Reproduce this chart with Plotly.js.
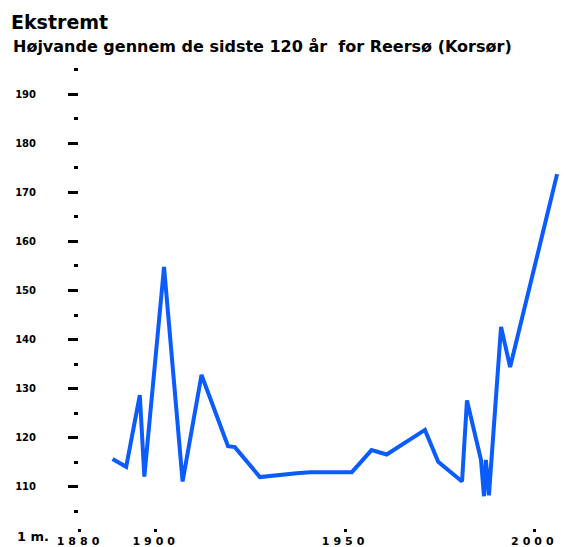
<!DOCTYPE html>
<html>
<head>
<meta charset="utf-8">
<script src="https://cdn.plot.ly/plotly-3.0.1.min.js"></script>
<style>
html,body{margin:0;padding:0;background:#fff;}
#chart{width:566px;height:547px;}
.xtick text{letter-spacing:4px;}
</style>
</head>
<body>
<div id="chart"></div>
<script>
// Data
var years = [1888.6, 1892.2, 1895.8, 1897.0, 1902.2, 1907.1, 1912.1, 1919.1, 1920.9, 1927.5,
             1937.2, 1940.8, 1951.8, 1957.0, 1961.0, 1971.1, 1974.6, 1980.9, 1982.2, 1985.9,
             1986.7, 1987.2, 1988.0, 1991.2, 1993.6, 2006.0];
var levels = [115.7, 114.1, 128.7, 112.1, 154.8, 111.1, 132.8, 118.3, 118.1, 112.0,
              112.8, 113.0, 113.0, 117.5, 116.6, 121.6, 115.1, 111.1, 127.6, 115.5,
              108.1, 115.5, 108.3, 142.6, 134.4, 173.7];
var xTickVals = [1880, 1900, 1950, 2000];
var xTickText = ["1880", "1900", "1950", "2000"];
var yTickVals = [110, 120, 130, 140, 150, 160, 170, 180, 190];
var yTickText = ["110", "120", "130", "140", "150", "160", "170", "180", "190"];
var titleText = "Ekstremt";
var subtitleText = "Højvande gennem de sidste 120 år  for Reersø (Korsør)";
var baseLabel = "1 m.";

var trace = {
  x: years,
  y: levels,
  type: "scatter",
  mode: "lines",
  line: {color: "#0a5cff", width: 4},
  hoverinfo: "x+y"
};

var plotTop = 69, plotBottom = 528, plotH = plotBottom - plotTop;

var layout = {
  width: 566,
  height: 547,
  paper_bgcolor: "#ffffff",
  plot_bgcolor: "#ffffff",
  margin: {l: 79, r: 4, t: plotTop, b: 547 - plotBottom, pad: 0},
  showlegend: false,
  font: {family: "DejaVu Sans", color: "#000"},
  title: {
    text: titleText,
    font: {family: "DejaVu Sans", size: 19, weight: "bold", color: "#000"},
    xref: "container", yref: "container",
    x: 11 / 566, xanchor: "left",
    y: 1 - 22 / 547, yanchor: "middle"
  },
  xaxis: {
    range: [1879.74, 2007.3],
    showgrid: false, zeroline: false, showline: false,
    tickmode: "array", tickvals: xTickVals, ticktext: xTickText,
    ticks: "outside", ticklen: 3, tickwidth: 3, tickcolor: "#000",
    tickfont: {family: "DejaVu Sans", size: 11, weight: "bold", color: "#000"}
  },
  yaxis: {
    range: [101.63, 195.11],
    showgrid: false, zeroline: false, showline: false,
    tickmode: "array", tickvals: yTickVals, ticktext: yTickText,
    ticks: "outside", ticklen: 10, tickwidth: 3, tickcolor: "#000",
    ticklabelstandoff: 30,
    tickfont: {family: "DejaVu Sans", size: 10, weight: "bold", color: "#000"},
    minor: {tickmode: "linear", tick0: 105, dtick: 10, ticks: "outside", ticklen: 4, tickwidth: 3, tickcolor: "#000", showgrid: false}
  },
  annotations: [
    {
      text: subtitleText,
      xref: "paper", yref: "paper",
      x: (11 - 79) / 483, xanchor: "left",
      y: 1 + (plotTop - 46) / plotH, yanchor: "middle",
      showarrow: false,
      font: {family: "DejaVu Sans", size: 16, weight: "bold", color: "#000"}
    },
    {
      text: baseLabel,
      xref: "paper", yref: "paper",
      x: (15 - 79) / 483, xanchor: "left",
      y: -(536 - plotBottom) / plotH, yanchor: "middle",
      showarrow: false,
      font: {family: "DejaVu Sans", size: 13, weight: "bold", color: "#000"}
    }
  ]
};

Plotly.newPlot("chart", [trace], layout, {displayModeBar: false, staticPlot: true});
</script>
</body>
</html>
